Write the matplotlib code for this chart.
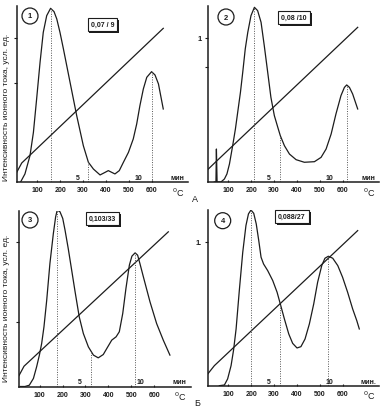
import numpy as np
import matplotlib.pyplot as plt
from matplotlib.patches import Circle, Rectangle

plt.rcParams['font.family'] = ['Liberation Sans', 'DejaVu Sans']

# ---- data (temperature, deg C  /  ion current, arb. units)
t1 = [27, 46, 68, 83, 97, 112, 126, 141, 158, 173, 185, 199, 214, 243, 272, 301, 323,
      345, 374, 396, 410, 425, 439, 458, 476, 498, 519, 534, 548, 563, 578, 599, 614, 629, 650]
i1 = [0.0, 0.056, 0.183, 0.345, 0.576, 0.831, 1.039, 1.155, 1.206, 1.183, 1.132, 1.039,
      0.924, 0.692, 0.461, 0.252, 0.137, 0.090, 0.049, 0.067, 0.079, 0.067, 0.056, 0.079,
      0.137, 0.206, 0.299, 0.403, 0.530, 0.646, 0.727, 0.766, 0.743, 0.681, 0.507]
line1_t = [10, 32, 650]
line1_i = [0.067, 0.132, 1.067]
marks1 = [158, 323, 599]

t2 = [39, 46, 48, 51, 68, 83, 94, 105, 119, 131, 141, 153, 163, 174, 185, 199, 214, 228,
      243, 257, 272, 286, 301, 316, 327, 345, 367, 396, 432, 476, 505, 527, 549, 570, 592,
      607, 617, 629, 643, 665]
i2 = [0.0, 0.0, 0.229, 0.0, 0.0, 0.021, 0.056, 0.125, 0.252, 0.368, 0.484, 0.623, 0.762,
      0.924, 1.039, 1.155, 1.213, 1.190, 1.109, 0.947, 0.762, 0.588, 0.461, 0.380, 0.322,
      0.252, 0.194, 0.155, 0.137, 0.141, 0.171, 0.229, 0.333, 0.472, 0.600, 0.657, 0.674,
      0.657, 0.611, 0.507]
line2_t = [10, 46, 665]
line2_i = [0.086, 0.141, 1.074]
marks2 = [214, 327, 617]

t3 = [17, 36, 55, 73, 87, 99, 109, 119, 131, 145, 160, 170, 177, 189, 201, 211, 225, 240,
      255, 273, 291, 313, 335, 356, 378, 396, 415, 434, 448, 463, 477, 492, 503, 517, 528,
      538, 553, 582, 611, 640, 669]
i3 = [0.0, 0.0, 0.009, 0.056, 0.137, 0.218, 0.299, 0.414, 0.599, 0.854, 1.062, 1.178,
      1.225, 1.213, 1.167, 1.086, 0.958, 0.808, 0.657, 0.484, 0.368, 0.275, 0.218, 0.199,
      0.222, 0.271, 0.322, 0.345, 0.380, 0.507, 0.681, 0.843, 0.905, 0.928, 0.912, 0.854,
      0.762, 0.588, 0.437, 0.322, 0.218]
line3_t = [10, 32, 662]
line3_i = [0.076, 0.141, 1.074]
marks3 = [177, 323, 517]

t4 = [61, 83, 97, 112, 123, 134, 148, 163, 177, 188, 199, 211, 222, 233, 243, 254, 272,
      294, 313, 327, 345, 364, 381, 400, 417, 435, 454, 473, 490, 508, 522, 537, 556, 578,
      599, 621, 643, 661, 672]
i4 = [0.0, 0.005, 0.047, 0.139, 0.248, 0.394, 0.660, 0.926, 1.112, 1.193, 1.220, 1.197,
      1.123, 1.007, 0.892, 0.845, 0.799, 0.730, 0.649, 0.568, 0.463, 0.359, 0.294, 0.262,
      0.271, 0.324, 0.429, 0.568, 0.718, 0.834, 0.885, 0.899, 0.885, 0.834, 0.753, 0.649,
      0.533, 0.452, 0.394]
line4_t = [10, 39, 665]
line4_i = [0.081, 0.139, 1.077]
marks4 = [199, 327, 537]

panel_nums = ['1', '2', '3', '4']
ratios = ['0,07 / 9', '0,08 /10', '0,103/33', '0,088/27']
temp_ticks = [100, 200, 300, 400, 500, 600]
min_labels = ['5', '10']
min_pos = [275, 540]
min_word = ['мин', 'мин', 'мин', 'мин.']
ytick_pos = [[0.69, 1.0], [0.8, 1.0], [0.45, 1.0], [1.0]]
ytick_lab = [['', ''], ['', '1'], ['', ''], ['1.']]
ylabel = 'Интенсивность ионного тока, усл. ед.'

curves = [(t1, i1, line1_t, line1_i, marks1), (t2, i2, line2_t, line2_i, marks2),
          (t3, i3, line3_t, line3_i, marks3), (t4, i4, line4_t, line4_i, marks4)]

W, H = 382, 410
fig = plt.figure(figsize=(W / 100, H / 100), dpi=100)
ink = '#1c1c1c'

# axes rectangles in pixels: left, bottom (from top)
rects = [(16.7, 183), (207.7, 183), (19, 387.5), (207.7, 386.7)]
ax_w, ax_h = 171.75, 175.7

for k, (t, y, lt, ly, marks) in enumerate(curves):
    lx, by = rects[k]
    ax = fig.add_axes([lx / W, (H - by) / H, ax_w / W, ax_h / H])
    ax.set_xlim(10, 760)
    ax.set_ylim(0, 1.22)
    ax.patch.set_alpha(0)
    for s in ['top', 'right']:
        ax.spines[s].set_visible(False)
    for s in ['left', 'bottom']:
        ax.spines[s].set_linewidth(1.1)
        ax.spines[s].set_color(ink)

    ax.plot(t, y, color=ink, lw=0.9)
    ax.plot(lt, ly, color=ink, lw=0.9)
    for m in marks:
        ax.plot([m, m], [0, np.interp(m, t, y)], color='#555555', lw=0.7,
                ls=(0, (1, 1.5)))

    ax.set_xticks(temp_ticks)
    ax.set_xticklabels([str(v) for v in temp_ticks], fontsize=5, fontweight='bold')
    ax.tick_params(axis='x', direction='in', length=1.5, pad=3, colors=ink)
    ax.set_yticks(ytick_pos[k])
    ax.set_yticklabels(ytick_lab[k], fontsize=5.5, fontweight='bold')
    ax.tick_params(axis='y', direction='out', length=2.5, pad=1.5, colors=ink)

    for lab, p in zip(min_labels, min_pos):
        ax.text(p, 0.008, lab, fontsize=5, fontweight='bold', ha='center',
                va='bottom', color=ink)
    ax.text(712, 0.008, min_word[k], fontsize=5, fontweight='bold', ha='center',
            va='bottom', color=ink)
    ax.text(716, -0.022, '$^0$C', fontsize=6.5, ha='center', va='top', color=ink,
            clip_on=False)

# circled panel numbers
circ = [(30, 17), (226, 18), (30, 221), (222.7, 221.7)]
for (cx, cy), n in zip(circ, panel_nums):
    fig.patches.append(Circle((cx / 100, (H - cy) / 100), 0.08, fill=False,
                              ec=ink, lw=0.9, transform=fig.dpi_scale_trans))
    fig.text(cx / W, (H - cy) / H, n, fontsize=5.5, fontweight='bold',
             ha='center', va='center', color=ink)

# boxed ratios, each with a dark drop shadow behind the frame
boxes = [(102.5, 25.5), (294, 18.5), (102.5, 219.5), (292, 217.5)]
box_texts = []
for (bx, byy), s in zip(boxes, ratios):
    tx = fig.text(bx / W, (H - byy) / H, s, fontsize=5, fontweight='bold',
                  ha='center', va='center', color=ink, zorder=5,
                  bbox=dict(boxstyle='square,pad=0.45', fc='white', ec=ink, lw=0.8))
    box_texts.append(tx)

fig.canvas.draw()
for tx in box_texts:
    bb = tx.get_bbox_patch().get_window_extent()
    fig.patches.append(Rectangle((bb.x0 + 1.8, bb.y0 - 1.8), bb.width, bb.height,
                                 fc=ink, ec=ink, lw=0, zorder=4, transform=None))

# vertical axis titles
fig.text(7 / W, (H - 107) / H, ylabel, rotation=90, fontsize=6, ha='center',
         va='center', color=ink)
fig.text(7 / W, (H - 308) / H, ylabel, rotation=90, fontsize=6, ha='center',
         va='center', color=ink)

fig.text(195 / W, (H - 200) / H, 'А', fontsize=6.5, ha='center', va='center', color=ink)
fig.text(197 / W, (H - 404) / H, 'Б', fontsize=6.5, ha='center', va='center', color=ink)

fig.savefig('out.png', dpi=100)
